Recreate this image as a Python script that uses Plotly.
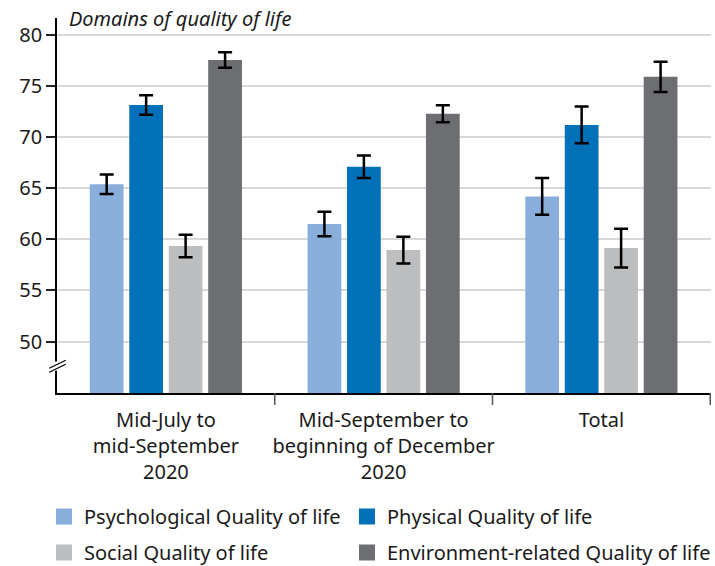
import plotly.graph_objects as go

categories = ["Mid-July to<br>mid-September<br>2020",
              "Mid-September to<br>beginning of December<br>2020",
              "Total"]
series_names = ["Psychological Quality of life", "Physical Quality of life",
                "Social Quality of life", "Environment-related Quality of life"]
psych = [65.4, 61.5, 64.2]
psych_err = [0.95, 1.2, 1.8]
physical = [73.15, 67.1, 71.2]
physical_err = [0.95, 1.1, 1.8]
social = [59.35, 58.95, 59.15]
social_err = [1.1, 1.3, 1.9]
environment = [77.55, 72.3, 75.9]
environment_err = [0.75, 0.83, 1.47]
y_ticks = [50, 55, 60, 65, 70, 75, 80]

colors = ["#8aaedb", "#0070b8", "#bdbec0", "#6d6e72"]
legend_ids = ["legend", "legend2", "legend", "legend2"]
FONT = "Noto Sans"
TXT = "#1a1a1a"

fig = go.Figure()
for name, vals, errs, col in zip(series_names,
                                 [psych, physical, social, environment],
                                 [psych_err, physical_err, social_err, environment_err],
                                 colors):
    fig.add_trace(go.Bar(
        x=categories, y=vals, name=name, marker_color=col, marker_line_width=0,
        base=0, showlegend=False,
        error_y=dict(type="data", array=errs, visible=True, color="black",
                     thickness=2.5, width=7),
    ))
# legend entries (square swatches)
for i, (name, col, lg) in enumerate(zip(series_names, colors, legend_ids)):
    fig.add_trace(go.Scatter(
        x=[None], y=[None], mode="markers", name=name, legend=lg,
        legendgroup=f"g{i}",
        marker=dict(symbol="square", size=16, color=col, line=dict(width=0)),
    ))

leg_common = dict(orientation="v", yanchor="top", xanchor="left",
                  font=dict(size=20, color=TXT, family=FONT),
                  tracegroupgap=7, bgcolor="rgba(0,0,0,0)", traceorder="grouped")
fig.update_layout(
    width=715, height=566,
    margin=dict(l=57, r=4, t=18, b=173, autoexpand=False),
    plot_bgcolor="white", paper_bgcolor="white",
    barmode="group", bargap=0.275, bargroupgap=0.145,
    font=dict(family=FONT, size=20, color=TXT),
    showlegend=True,
    legend=dict(x=-0.0199, y=-0.2773, **leg_common),
    legend2=dict(x=0.4434, y=-0.2773, **leg_common),
)
fig.update_yaxes(range=[44.97, 81.66], tickvals=y_ticks, showgrid=True,
                 gridcolor="#d9d9d9", gridwidth=1.5, showline=True,
                 linecolor="black", linewidth=1.5, ticks="outside", ticklen=9,
                 tickcolor="#222222", tickwidth=1.5, zeroline=False,
                 tickfont=dict(size=20), automargin=False)
fig.update_xaxes(showline=True, linecolor="black", linewidth=1.5, ticks="outside",
                 ticklen=8, tickcolor="rgba(0,0,0,0)",
                 tickfont=dict(size=20), showgrid=False, automargin=False)

# category divider ticks
for xv in [0.5, 1.5, 2.5]:
    fig.add_shape(type="line", xref="x", yref="paper", x0=xv, x1=xv, y0=0, y1=-0.032,
                  line=dict(color="#555555", width=1.5))

# axis break marks
fig.add_shape(type="line", xref="paper", yref="y", x0=0, x1=0, y0=47.15, y1=48.05,
              line=dict(color="white", width=4))
for off in [0.0, 0.39]:
    fig.add_shape(type="line", xref="paper", yref="y", x0=-0.0118, x1=0.0133,
                  y0=47.0 + off, y1=47.78 + off, line=dict(color="black", width=1.3))

fig.add_annotation(text="<i>Domains of quality of life</i>", xref="paper", yref="paper",
                   x=0, y=1, xanchor="left", yanchor="middle", xshift=10, yshift=0,
                   showarrow=False, font=dict(size=20, family=FONT, color=TXT))

fig.write_html("out.html", config={"displayModeBar": False},
               post_script="document.body.style.margin='0';")
